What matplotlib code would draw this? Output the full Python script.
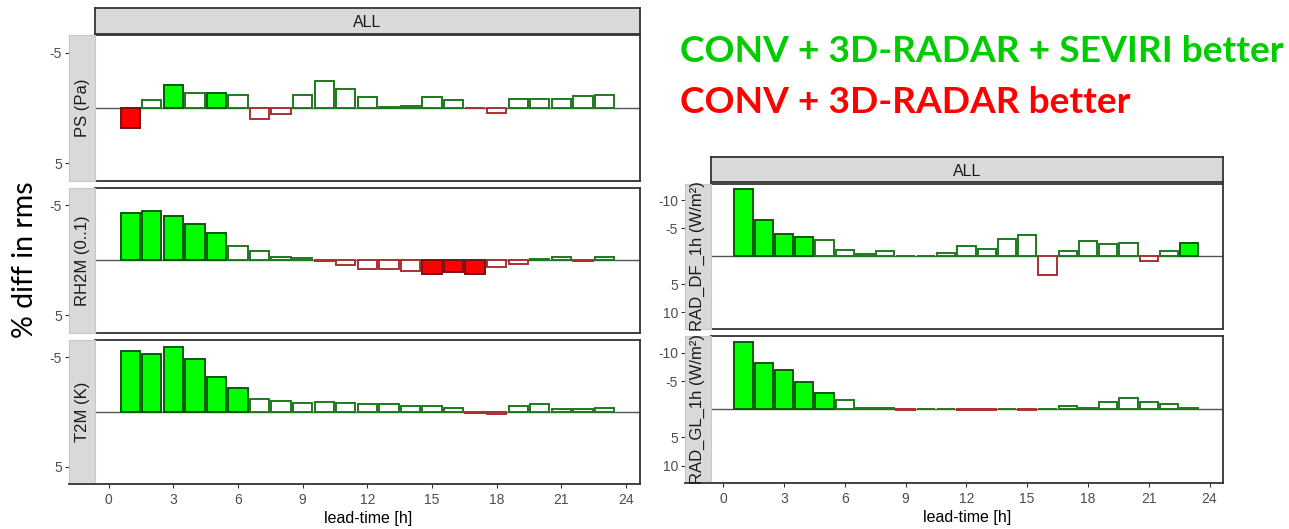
import matplotlib
matplotlib.use("Agg")
import matplotlib.pyplot as plt

plt.rcParams['font.family'] = ['Liberation Sans', 'DejaVu Sans']

# lead times (h)
lead = list(range(1, 24))

# % diff in rms, negative = CONV+3D-RADAR+SEVIRI better
ps = [1.8, -0.75, -2.1, -1.33, -1.36, -1.12, 1.03, 0.55, -1.12, -2.42, -1.7, -0.94,
      -0.05, -0.2, -0.94, -0.67, 0.05, 0.45, -0.82, -0.82, -0.82, -1.03, -1.12]
rh2m = [-4.34, -4.49, -4.07, -3.34, -2.5, -1.33, -0.81, -0.27, -0.18, 0.03, 0.45, 0.75,
        0.75, 0.96, 1.23, 1.08, 1.23, 0.63, 0.36, -0.09, -0.3, 0.03, -0.3]
t2m = [-5.58, -5.36, -6.0, -4.82, -3.24, -2.18, -1.24, -1.03, -0.82, -0.94, -0.82, -0.7,
       -0.7, -0.6, -0.55, -0.42, 0.05, 0.18, -0.6, -0.7, -0.3, -0.3, -0.42]
rad_df = [-12.0, -6.43, -3.99, -3.39, -2.86, -1.07, -0.42, -0.89, -0.05, -0.05, -0.6, -1.85,
          -1.25, -3.04, -3.75, 3.39, -0.89, -2.68, -2.14, -2.44, 0.83, -0.89, -2.38]
rad_gl = [-11.9, -8.15, -6.96, -4.76, -2.8, -1.6, -0.24, -0.24, 0.05, -0.05, -0.05, 0.05,
          0.05, -0.05, 0.05, -0.05, -0.6, -0.24, -1.25, -2.02, -1.37, -1.01, -0.24]

# significant lead times (filled bars)
ps_sig = [1, 3, 5]
rh2m_sig = [1, 2, 3, 4, 5, 15, 16, 17]
t2m_sig = [1, 2, 3, 4, 5, 6]
rad_df_sig = [1, 2, 3, 4, 23]
rad_gl_sig = [1, 2, 3, 4, 5]

xticks = list(range(0, 25, 3))

W, H = 1289, 529
fig = plt.figure(figsize=(W / 100, H / 100), dpi=100)


def box(x0, y0, x1, y1):
    return [x0 / W, 1 - y1 / H, (x1 - x0) / W, (y1 - y0) / H]


def panel(x0, x1, sx0, y0, y1, vals, sig, label, lim, yt, bottom):
    ax = fig.add_axes(box(x0, y0, x1, y1))
    faces, edges = [], []
    for t, v in zip(lead, vals):
        good = v < 0
        if t in sig:
            faces.append('#00FF00' if good else '#FF0000')
            edges.append('#0A5A0A' if good else '#7A1010')
        else:
            faces.append('white')
            edges.append('#1E7A1E' if good else '#A83232')
    ax.bar(lead, vals, width=0.9, color=faces, edgecolor=edges, linewidth=1.4, zorder=2)
    ax.axhline(0, color='#555555', lw=1.0, zorder=1)
    ax.set_xlim(-0.62, 24.65)
    ax.set_ylim(lim, -lim)
    ax.set_yticks([])
    for s in ax.spines.values():
        s.set_color('#333333')
        s.set_linewidth(1.3)
    ax.set_xticks(xticks)
    ax.tick_params(axis='x', length=3, color='#333333', labelsize=10, labelcolor='#4D4D4D')
    if bottom:
        ax.set_xlabel('lead-time [h]', fontsize=11.5, labelpad=3)
    else:
        ax.tick_params(axis='x', bottom=False, labelbottom=False)

    st = fig.add_axes(box(sx0, y0, x0, y1), facecolor='#D9D9D9')
    st.set_ylim(lim, -lim)
    st.set_xticks([])
    st.set_yticks(yt)
    st.set_yticklabels([str(v) for v in yt])
    st.tick_params(axis='y', length=3, color='#333333', labelsize=10, labelcolor='#4D4D4D', pad=2)
    for k, s in st.spines.items():
        s.set_color('#C8C8C8')
        s.set_linewidth(0.8)
    if bottom:
        st.spines['bottom'].set_color('#333333')
        st.spines['bottom'].set_linewidth(1.3)
    st.text(0.5, 0.5, label, rotation=90, ha='center', va='center',
            fontsize=12, color='#1A1A1A', transform=st.transAxes)
    return ax


def top_strip(x0, x1, y0, y1):
    st = fig.add_axes(box(x0, y0, x1, y1), facecolor='#D9D9D9')
    st.set_xticks([])
    st.set_yticks([])
    for s in st.spines.values():
        s.set_color('#333333')
        s.set_linewidth(1.3)
    st.text(0.5, 0.45, 'ALL', ha='center', va='center', fontsize=11.5, color='#1A1A1A',
            transform=st.transAxes)


# left column
top_strip(95.3, 640, 8.3, 34.3)
panel(95.3, 640, 69, 35, 180.7, ps, ps_sig, 'PS (Pa)', 6.6, [-5, 5], False)
panel(95.3, 640, 69, 187.7, 333, rh2m, rh2m_sig, 'RH2M (0..1)', 6.6, [-5, 5], False)
panel(95.3, 640, 69, 340, 484.3, t2m, t2m_sig, 'T2M (K)', 6.6, [-5, 5], True)

# right column
top_strip(710.7, 1222.7, 157.3, 182.3)
panel(710.7, 1222.7, 685, 183.5, 329, rad_df, rad_df_sig, 'RAD_DF_1h (W/m²)', 13.0,
      [-10, -5, 5, 10], False)
panel(710.7, 1222.7, 685, 336, 482.5, rad_gl, rad_gl_sig, 'RAD_GL_1h (W/m²)', 13.0,
      [-10, -5, 5, 10], True)

fig.text(25 / W, 1 - 260 / H, '% diff in rms', rotation=90, ha='center', va='center',
         fontsize=20.5, family=['Lato', 'DejaVu Sans'], color='black')
fig.text(680 / W, 1 - 61.7 / H, 'CONV + 3D-RADAR + SEVIRI better', color='#00CC00',
         fontsize=26.7, fontweight='bold', family=['Lato', 'DejaVu Sans'], va='baseline')
fig.text(680 / W, 1 - 113.3 / H, 'CONV + 3D-RADAR better', color='#FF0000',
         fontsize=26.7, fontweight='bold', family=['Lato', 'DejaVu Sans'], va='baseline')

fig.savefig('out.png', dpi=100)
